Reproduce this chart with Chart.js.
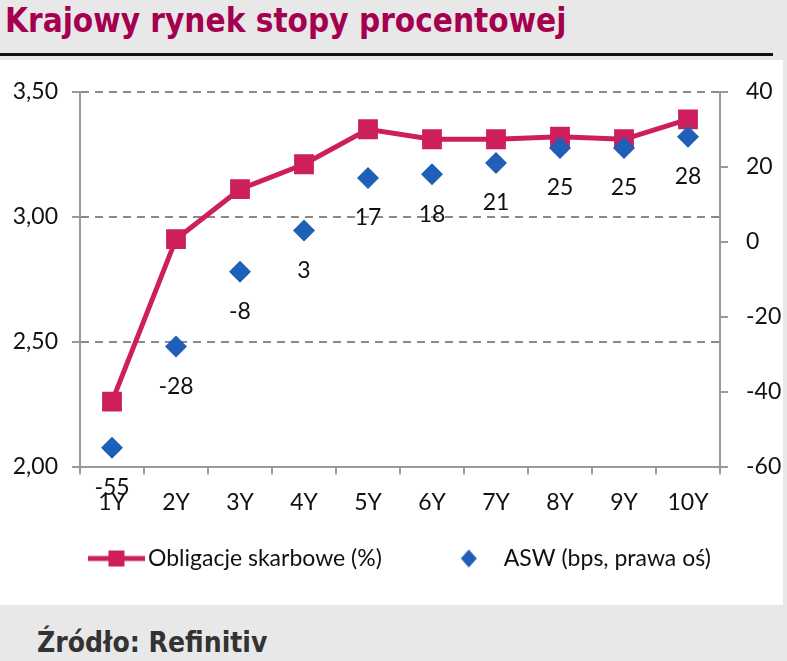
<!DOCTYPE html>
<html>
<head>
<meta charset="utf-8">
<script src="https://cdn.jsdelivr.net/npm/chart.js@4.4.0/dist/chart.umd.min.js"></script>
<style>
body { margin: 0; background: #e8e8e8; width: 787px; height: 661px; overflow: hidden; position: relative; }
#title { position: absolute; left: 5px; top: 4px; font: bold 33px/33px 'DejaVu Sans Condensed'; color: #a5004f; white-space: nowrap; }
#rule { position: absolute; left: 0; top: 53px; width: 773px; height: 3px; background: #111; }
#panel { position: absolute; left: 0; top: 60px; width: 783px; height: 545px; background: #fff; }
#source { position: absolute; left: 37px; top: 629px; font: bold 28px/28px 'DejaVu Sans Condensed'; color: #333; white-space: nowrap; }
</style>
</head>
<body>
<div id="title">Krajowy rynek stopy procentowej</div>
<div id="rule"></div>
<div id="panel"><canvas id="chart" width="783" height="545"></canvas></div>
<div id="source">Źródło: Refinitiv</div>
<script>
var tenors = ['1Y', '2Y', '3Y', '4Y', '5Y', '6Y', '7Y', '8Y', '9Y', '10Y'];
var bondYields = [2.26, 2.91, 3.11, 3.21, 3.35, 3.31, 3.31, 3.32, 3.31, 3.39]; // left axis, %
var aswValues = [-55, -28, -8, 3, 17, 18, 21, 25, 25, 28];                   // right axis, bps
var leftTicks = [2.0, 2.5, 3.0, 3.5];
var rightTicks = [-60, -40, -20, 0, 20, 40];
var seriesNames = ['Obligacje skarbowe (%)', 'ASW (bps, prawa oś)'];

var pink = '#cc1f5c';
var blue = '#1f5fb8';
var axisGrey = '#9a9a9a';
var fontFam = 'Lato, Carlito, sans-serif';

// little pictures for the legend (line + square, diamond), 117px wide, centred on a 100px box
function legendLineIcon() {
  var c = document.createElement('canvas');
  c.width = 117; c.height = 24;
  var g = c.getContext('2d');
  g.strokeStyle = pink; g.lineWidth = 5;
  g.beginPath(); g.moveTo(60, 12); g.lineTo(117, 12); g.stroke();
  g.fillStyle = pink;
  g.fillRect(88.5 - 8, 4, 16, 16);
  return c;
}
function legendDiamondIcon() {
  var c = document.createElement('canvas');
  c.width = 117; c.height = 24;
  var g = c.getContext('2d');
  g.fillStyle = blue;
  g.beginPath();
  g.moveTo(85, 3); g.lineTo(93, 12); g.lineTo(85, 21); g.lineTo(77, 12);
  g.closePath(); g.fill();
  return c;
}
var legendIcons = [legendLineIcon(), legendDiamondIcon()];

var aswLabels = {
  id: 'aswLabels',
  afterDatasetsDraw: function(chart) {
    var ctx = chart.ctx;
    var meta = chart.getDatasetMeta(1);
    ctx.save();
    ctx.font = '23px ' + fontFam;
    ctx.fillStyle = '#111';
    ctx.textAlign = 'center';
    ctx.textBaseline = 'middle';
    for (var i = 0; i < meta.data.length; i++) {
      ctx.fillText(String(aswValues[i]), meta.data[i].x, meta.data[i].y + 40);
    }
    ctx.restore();
  }
};

// nudge the legend row to the right a bit
var legendShift = {
  id: 'legendShift',
  afterLayout: function(chart) {
    chart.legend.left += 26;
    chart.legend.right += 26;
  }
};

var ctx = document.getElementById('chart').getContext('2d');
var curveChart = new Chart(ctx, {
  type: 'line',
  data: {
    labels: tenors,
    datasets: [
      {
        label: seriesNames[0],
        data: bondYields,
        yAxisID: 'y',
        borderColor: pink,
        backgroundColor: pink,
        borderWidth: 5,
        pointStyle: 'rect',
        pointRadius: 14,
        pointBorderWidth: 0,
        tension: 0,
        order: 2
      },
      {
        label: seriesNames[1],
        data: aswValues,
        yAxisID: 'y1',
        showLine: false,
        borderColor: blue,
        backgroundColor: blue,
        pointStyle: 'rectRot',
        pointRadius: 11,
        pointBorderWidth: 0,
        order: 1
      }
    ]
  },
  options: {
    responsive: false,
    animation: false,
    layout: { padding: { top: 27, bottom: 25, left: 0, right: 0 } },
    plugins: {
      tooltip: { enabled: false },
      legend: {
        position: 'bottom',
        align: 'start',
        labels: {
          usePointStyle: true,
          pointStyleWidth: 100,
          padding: 10.5,
          color: '#111',
          font: { family: fontFam, size: 23 },
          sort: function(a, b) { return a.datasetIndex - b.datasetIndex; },
          generateLabels: function(chart) {
            var items = Chart.defaults.plugins.legend.labels.generateLabels(chart);
            items.forEach(function(it) { it.pointStyle = legendIcons[it.datasetIndex]; });
            return items;
          }
        }
      }
    },
    scales: {
      x: {
        offset: true,
        grid: { offset: true, drawOnChartArea: false, tickLength: 8, color: axisGrey, lineWidth: 2 },
        border: { color: axisGrey, width: 2 },
        ticks: { color: '#111', font: { family: fontFam, size: 23 }, padding: 14, maxRotation: 0 },
        afterFit: function(s) { s.height = 70; }
      },
      y: {
        position: 'left',
        min: leftTicks[0],
        max: leftTicks[leftTicks.length - 1],
        afterBuildTicks: function(s) { s.ticks = leftTicks.map(function(v) { return { value: v }; }); },
        grid: { color: '#8a8a8a', lineWidth: 2, tickLength: 8, tickColor: axisGrey, tickBorderDash: [] },
        border: { color: axisGrey, width: 2, dash: [8, 6] },
        ticks: {
          color: '#111', font: { family: fontFam, size: 23 }, padding: 14,
          callback: function(v) { return v.toFixed(2).replace('.', ','); }
        },
        afterFit: function(s) { s.width = 80; }
      },
      y1: {
        position: 'right',
        min: rightTicks[0],
        max: rightTicks[rightTicks.length - 1],
        afterBuildTicks: function(s) { s.ticks = rightTicks.map(function(v) { return { value: v }; }); },
        grid: { drawOnChartArea: false, tickLength: 8, color: axisGrey, lineWidth: 2 },
        border: { color: axisGrey, width: 2 },
        ticks: { color: '#111', font: { family: fontFam, size: 23 }, padding: 18 },
        afterFit: function(s) { s.width = 63; }
      }
    }
  },
  plugins: [aswLabels, legendShift]
});
</script>
</body>
</html>
